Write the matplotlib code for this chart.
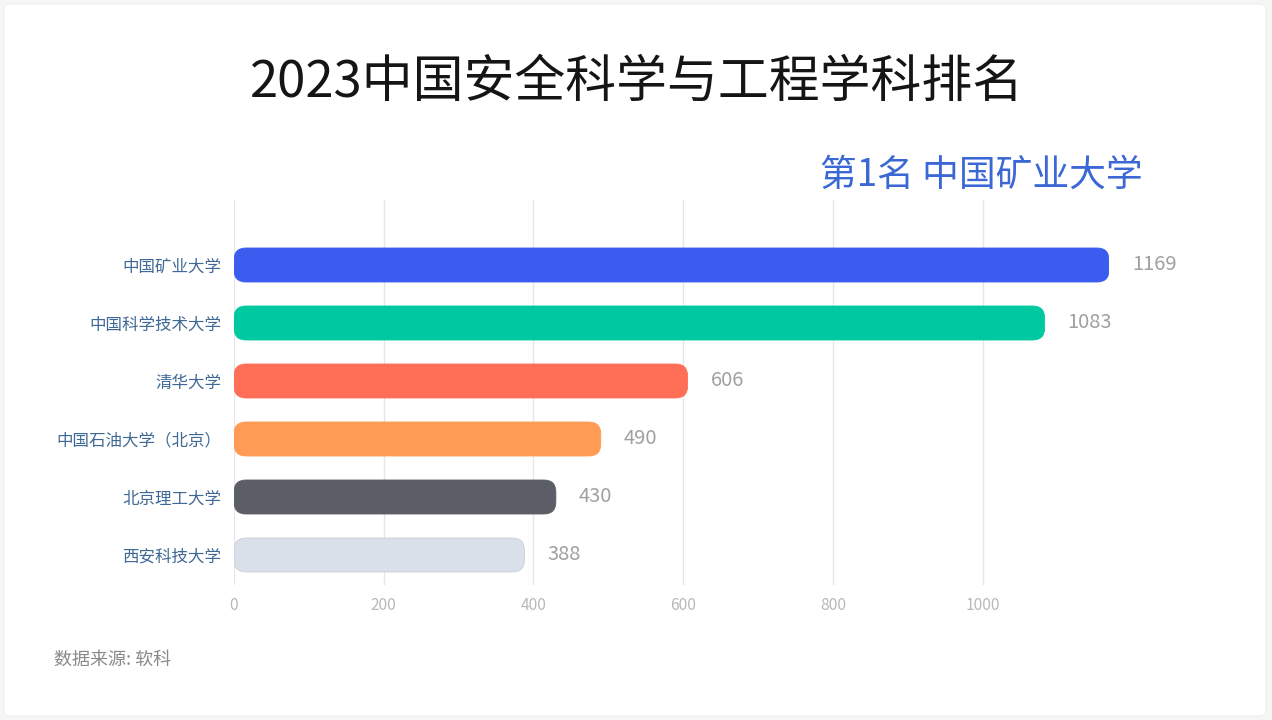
import matplotlib
matplotlib.use("Agg")
import matplotlib.pyplot as plt
from matplotlib.patches import FancyBboxPatch

plt.rcParams['font.family'] = ['Noto Sans CJK SC', 'DejaVu Sans']

# data
schools = ["中国矿业大学", "中国科学技术大学", "清华大学",
           "中国石油大学（北京）", "北京理工大学", "西安科技大学"]
scores = [1169, 1083, 606, 490, 430, 388]
colors = ["#3a5cef", "#00c9a2", "#ff6e57", "#ff9b55", "#5b5e66", "#dae0ea"]
x_ticks = [0, 200, 400, 600, 800, 1000]

W, H = 1272, 720
fig = plt.figure(figsize=(W / 100, H / 100), dpi=100)
fig.patch.set_facecolor("#f6f6f6")

# white card behind everything
card = FancyBboxPatch((4 / W, 4 / H), 1 - 10 / W, 1 - 8 / H,
                      boxstyle="round,pad=0,rounding_size=0.006",
                      transform=fig.transFigure, facecolor="white",
                      edgecolor="#eeeeee", linewidth=0.8, zorder=-5)
fig.patches.append(card)

# axes placement (pixels -> fraction)
ax_left, ax_right = 234, 1109
ax_top, ax_bottom = 200, 585
ax = fig.add_axes([ax_left / W, 1 - ax_bottom / H,
                   (ax_right - ax_left) / W, (ax_bottom - ax_top) / H])
ax.set_facecolor("none")
ax.set_zorder(2)

xmax = 1169
ax.set_xlim(0, xmax)
ax.set_ylim(5 + 30 / 58, -65 / 58)

# rounded bars
bar_h = 34 / 58
px_x = xmax / (ax_right - ax_left)      # data units per pixel in x
px_y = 1 / 58                           # data units per pixel in y
radius = 12 * px_x
for i, (name, val, c) in enumerate(zip(schools, scores, colors)):
    edge = "#c9cfd9" if i == 5 else c
    p = FancyBboxPatch((0, i - bar_h / 2), val, bar_h,
                       boxstyle="round,pad=0,rounding_size=%f" % radius,
                       mutation_aspect=px_y / px_x,
                       facecolor=c, edgecolor=edge, linewidth=0.6, zorder=3)
    ax.add_patch(p)
    ax.text(val + 23 * px_x, i, str(val), va="center", ha="left",
            fontsize=14.5, color="#a0a0a0", zorder=4)

ax.set_yticks(range(len(schools)))
ax.set_yticklabels(schools)
ax.tick_params(axis="y", length=0, pad=9, labelsize=11.9, labelcolor="#3f6894")

ax.set_xticks(x_ticks)
ax.tick_params(axis="x", length=0, pad=9, labelsize=11.2, labelcolor="#b8b8b8")
ax.grid(axis="x", color="#e6e6e6", linewidth=1, zorder=0)
ax.set_axisbelow(True)
for s in ax.spines.values():
    s.set_visible(False)

fig.text(637 / W, 1 - 83 / H, "2023中国安全科学与工程学科排名",
         ha="center", va="center", fontsize=36.6, color="#151515")
fig.text(1143 / W, 1 - 175 / H, "第1名 中国矿业大学",
         ha="right", va="center", fontsize=26.5, color="#3c68d6")
fig.text(54 / W, 1 - 660 / H, "数据来源: 软科",
         ha="left", va="center", fontsize=13, color="#8a8a8a")

fig.savefig("out.png", dpi=100, facecolor=fig.get_facecolor())
